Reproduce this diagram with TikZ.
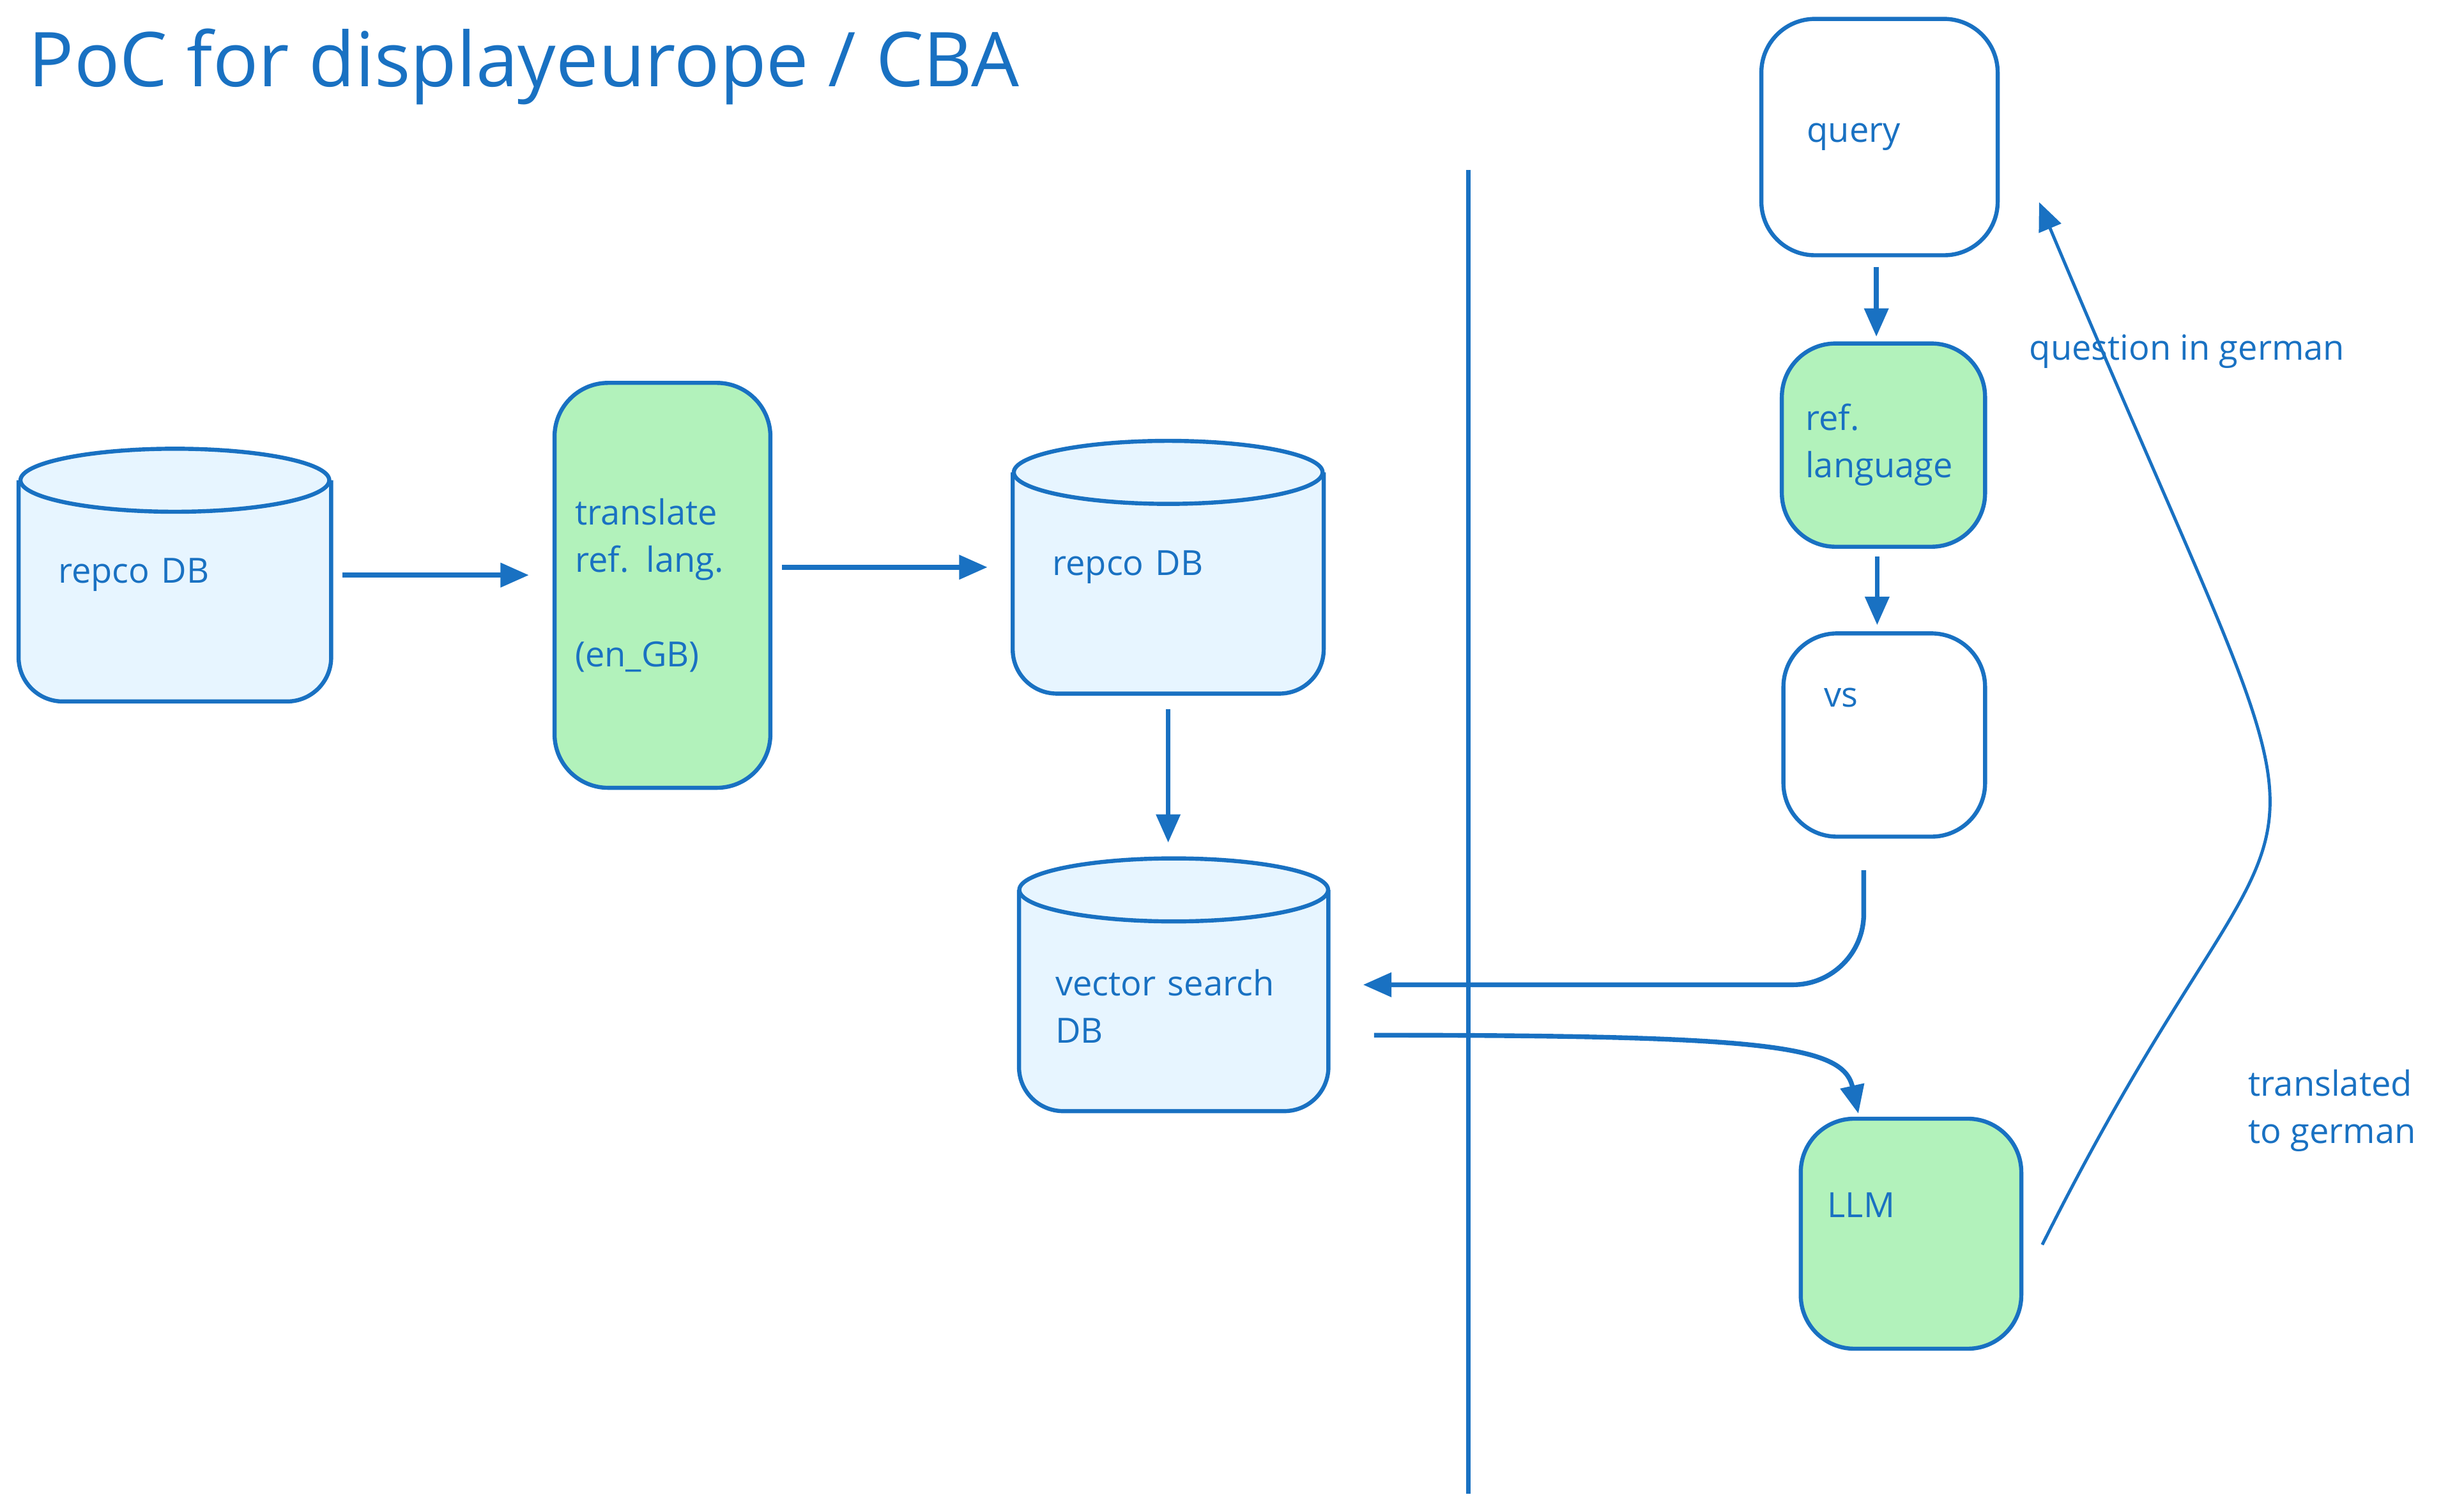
\documentclass[tikz,border=0pt]{standalone}
\usepackage{fontspec}
\setmainfont{Open Sans}
\usetikzlibrary{arrows.meta,backgrounds}
\newcommand{\canvaswidth}{1564}
\newcommand{\canvasheight}{958.6}
\definecolor{inkblue}{HTML}{1971C2}
\definecolor{stepgreen}{HTML}{B2F2BB}
\definecolor{dbfill}{HTML}{E7F5FF}

\tikzset{
  sketchbox/.style={draw=inkblue, line width=2.6pt, rounded corners=34pt, align=left, inner sep=0pt,
    font=\fontsize{22}{30}\selectfont\color{inkblue}},
  dbnode/.style={align=left, inner sep=0pt, minimum height=160pt,
    font=\fontsize{22}{30}\selectfont\color{inkblue}},
  flow/.style={draw=inkblue, line width=3pt, -{Triangle[length=18pt,width=15pt]}},
  note/.style={align=left, inner sep=0pt, font=\fontsize{22}{30}\selectfont\color{inkblue}}
}

\begin{document}
\begin{tikzpicture}[x=1pt,y=-1pt]
  \useasboundingbox (0,0) rectangle (\canvaswidth,\canvasheight);

  \node[anchor=base west, inner sep=0pt, font=\fontsize{48}{56}\selectfont\color{inkblue}]
    (title) at (18,55) {PoC for displayeurope / CBA};

  % === INGEST SIDE ===
  \node[dbnode, minimum width=198pt, text width=148pt] (repcoA) at (111,365) {repco DB};
  \node[sketchbox, fill=stepgreen, minimum width=137pt, minimum height=257pt, text width=111pt]
    (translate) at (420.5,371.5) {translate\\ref. lang.\\[30pt](en\_GB)};
  \node[dbnode, minimum width=197pt, text width=147pt] (repcoB) at (741.5,360) {repco DB};
  \node[dbnode, minimum width=196pt, text width=150pt, text height=44pt] (vecdb) at (745,625) {vector search\\DB};

  % cylinders drawn behind the text
  \begin{scope}[on background layer]
    \foreach \db in {repcoA,repcoB,vecdb} {
      \draw[inkblue, line width=2.6pt, fill=dbfill, rounded corners=28pt]
        ([yshift=-20pt]\db.north west) -- (\db.south west) -- (\db.south east) -- ([yshift=-20pt]\db.north east);
      \draw[inkblue, line width=2.6pt, fill=dbfill]
        ([yshift=-20pt]\db.north) ellipse [x radius=98pt, y radius=20pt];
    }
  \end{scope}

  \draw[flow, shorten <=7pt, shorten >=15pt] (repcoA.east) -- (translate.west |- repcoA.east);
  \draw[flow, shorten <=6pt, shorten >=16pt] (translate.east |- repcoB.west) -- (repcoB.west);
  \draw[flow, shorten <=10pt, shorten >=10pt] (repcoB.south) -- (repcoB.south |- vecdb.north);

  % === DIVIDER ===
  \draw[inkblue, line width=2.6pt] (932,108) -- (932,948);

  % === QUERY SIDE ===
  \node[sketchbox, fill=white, minimum width=150pt, minimum height=150pt, text width=92pt]
    (query) at (1193,87) {query};
  \node[sketchbox, fill=stepgreen, minimum width=129pt, minimum height=129pt, text width=99pt]
    (refl) at (1195.5,282.5) {ref.\\language};
  \node[sketchbox, fill=white, minimum width=128pt, minimum height=129pt, text width=76pt, text depth=48pt]
    (vs) at (1196,466.5) {vs};
  \node[sketchbox, fill=stepgreen, minimum width=140pt, minimum height=146pt, text width=106pt, text depth=36pt]
    (llm) at (1213,783) {LLM};

  \draw[flow, shorten <=6pt, shorten >=3pt] ([xshift=-2pt]query.south) -- ([xshift=-2pt]query.south |- refl.north);
  \draw[flow, shorten <=5pt, shorten >=4pt] ([xshift=-4pt]refl.south) -- ([xshift=-4pt]refl.south |- vs.north);

  \draw[flow, rounded corners=45pt, shorten >=22pt]
    ([shift={(-13pt,-20pt)}]vs.south) -- ([xshift=-13pt]vs.south |- vecdb.east) -- (vecdb.east);
  \draw[flow, shorten >=2pt]
    ([shift={(29pt,-32pt)}]vecdb.east) .. controls +(250,0) and +(-10,-45) .. ([xshift=-33pt]llm.north);
  \draw[flow, line width=2pt]
    ([shift={(12pt,-7pt)}]llm.east) .. controls +(175,-350) and +(210,500) .. ([shift={(25pt,35pt)}]query.south east);

  % labels on the return path
  \node[note, anchor=west] (asklabel) at (1288,223) {question in german};
  \node[note, anchor=west] (backlabel) at (1427,705) {translated\\to german};
\end{tikzpicture}
\end{document}
